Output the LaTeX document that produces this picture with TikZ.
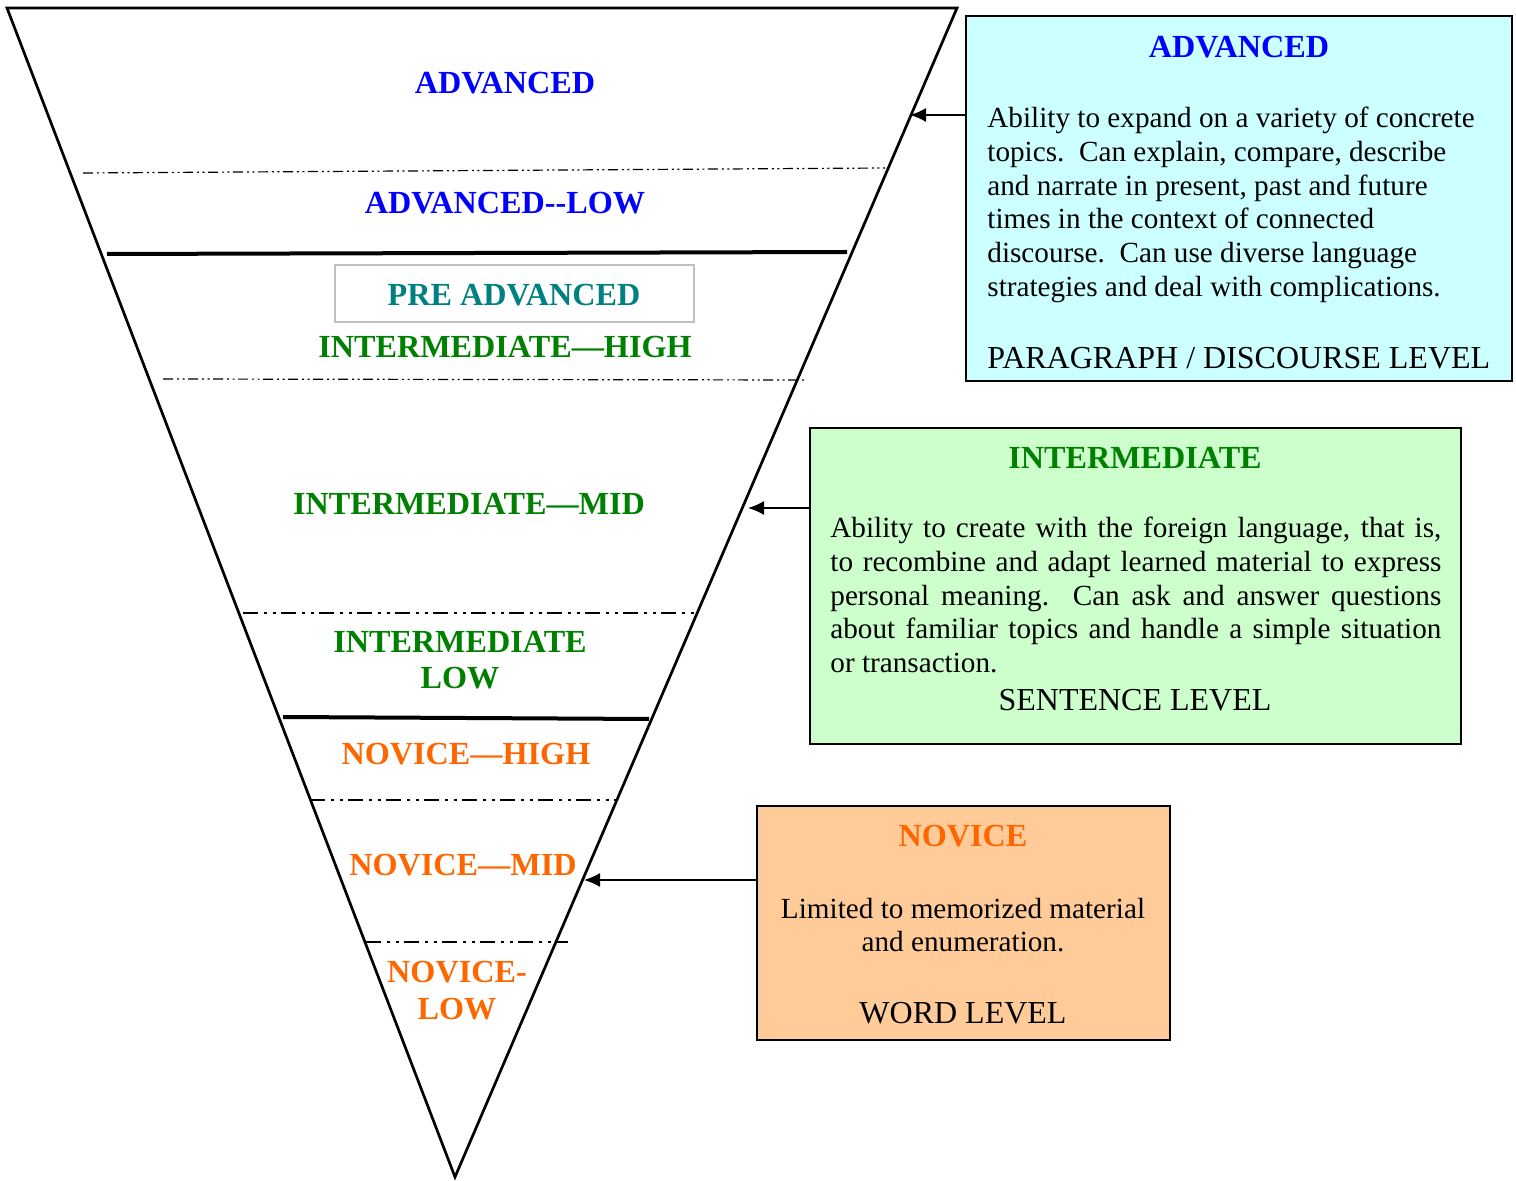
\documentclass[tikz,border=0pt]{standalone}
\usepackage{fontspec}
\setmainfont{Liberation Serif}
\usetikzlibrary{arrows.meta,fit}
\definecolor{advblue}{RGB}{0,0,255}
\definecolor{preteal}{RGB}{0,128,128}
\definecolor{intgreen}{RGB}{0,128,0}
\definecolor{novorange}{RGB}{255,102,0}
\definecolor{cyanfill}{RGB}{204,255,255}
\definecolor{greenfill}{RGB}{204,255,204}
\definecolor{peachfill}{RGB}{255,204,153}
\definecolor{boxgray}{RGB}{192,192,192}
\begin{document}
\begin{tikzpicture}[x=0.5pt,y=-0.5pt,
  lbl/.style={font=\fontsize{16.1}{17}\selectfont\bfseries, anchor=base, inner sep=0pt},
  body/.style={font=\fontsize{14.6}{17}\selectfont, anchor=base west, inner sep=0pt},
  bodyc/.style={font=\fontsize{14.6}{17}\selectfont, anchor=base, inner sep=0pt},
  lvl/.style={font=\fontsize{16}{17}\selectfont, inner sep=0pt},
  infobox/.style={draw=black, line width=1pt, inner sep=0pt},
  thinsep/.style={line width=0.6pt, dash pattern=on 5pt off 2pt on 1pt off 1.75pt on 1pt off 1.75pt},
  widesep/.style={line width=0.9pt, dash pattern=on 7.5pt off 3pt on 1.5pt off 2.75pt on 1.5pt off 2.75pt},
  thicksep/.style={line width=2pt},
  arr/.style={-{Latex[length=8pt,width=7pt]}, line width=0.75pt}
]
\useasboundingbox (0,0) rectangle (1516,1181);

% boxes
\node[infobox, fill=cyanfill, fit={(966,16) (1512,381)}] (advbox) {};
\node[infobox, fill=greenfill, fit={(810,428) (1461,744)}] (intbox) {};
\node[infobox, fill=peachfill, fit={(757,806) (1170,1040)}] (novbox) {};
\node[draw=boxgray, line width=1pt, inner sep=0pt, fit={(335,265) (694,322)}] (prebox) {};

% funnel
\coordinate (TL) at (7,8);
\coordinate (TR) at (957,8);
\coordinate (AP) at (455,1177);
\draw[line width=1.35pt] (TL) -- (TR) -- (AP) -- cycle;

% separators
\draw[thinsep] (83,173) -- (885,168);
\draw[thicksep] (107,254) -- (847,252);
\draw[thinsep] (163,379) -- (805,380);
\draw[widesep] (243,613) -- (697,613);
\draw[thicksep] (283,717) -- (649,719);
\draw[widesep] (310,800) -- (618,800);
\draw[widesep] (366,942) -- (568,942);

% funnel labels
\node[lbl, text=advblue] (l1) at (505,94) {ADVANCED};
\node[lbl, text=advblue] (l2) at (505,214) {ADVANCED-{}-LOW};
\node[lbl, text=preteal] (l3) at (514,306) {PRE ADVANCED};
\node[lbl, text=intgreen] (l4) at (505,358) {INTERMEDIATE—HIGH};
\node[lbl, text=intgreen] (l5) at (469,515) {INTERMEDIATE—MID};
\node[lbl, text=intgreen] (l6) at (460,653) {INTERMEDIATE};
\node[lbl, text=intgreen] (l7) at (460,689) {LOW};
\node[lbl, text=novorange] (l8) at (466,764) {NOVICE—HIGH};
\node[lbl, text=novorange] (l9) at (463,875) {NOVICE—MID};
\node[lbl, text=novorange] (l10) at (457,982) {NOVICE-};
\node[lbl, text=novorange] (l11) at (457,1019) {LOW};

% advanced box text
\node[lbl, text=advblue] (at) at (1239,58) {ADVANCED};
\node[body] (a1) at (987,128) {Ability to expand on a variety of concrete};
\node[body] (a2) at (987,162) {topics.\ \ Can explain, compare, describe};
\node[body] (a3) at (987,196) {and narrate in present, past and future};
\node[body] (a4) at (987,229) {times in the context of connected};
\node[body] (a5) at (987,263) {discourse.\ \ Can use diverse language};
\node[body] (a6) at (987,297) {strategies and deal with complications.};
\node[lvl, anchor=base west] (a7) at (987,369) {PARAGRAPH / DISCOURSE LEVEL};

% intermediate box text
\node[lbl, text=intgreen] (it) at (1135,469) {INTERMEDIATE};
\node[body] (i1) at (830,538) {\makebox[305.5pt][s]{Ability to create with the foreign language, that is,}};
\node[body] (i2) at (830,572) {\makebox[305.5pt][s]{to recombine and adapt learned material to express}};
\node[body] (i3) at (830,606) {\makebox[305.5pt][s]{personal meaning.\ \ Can ask and answer questions}};
\node[body] (i4) at (830,639) {\makebox[305.5pt][s]{about familiar topics and handle a simple situation}};
\node[body] (i5) at (830,673) {or transaction.};
\node[lvl, anchor=base] (i6) at (1135,711) {SENTENCE LEVEL};

% novice box text
\node[lbl, text=novorange] (nt) at (963,846) {NOVICE};
\node[bodyc] (n1) at (963,918) {Limited to memorized material};
\node[bodyc] (n2) at (963,951) {and enumeration.};
\node[lvl, anchor=base] (n3) at (963,1023) {WORD LEVEL};

% arrows
\coordinate (tA) at (910,115);
\coordinate (tI) at (748,508);
\coordinate (tN) at (584,880);
\draw[arr] (advbox.west |- tA) -- (tA);
\draw[arr] (intbox.west |- tI) -- (tI);
\draw[arr] (novbox.west |- tN) -- (tN);
\end{tikzpicture}
\end{document}
